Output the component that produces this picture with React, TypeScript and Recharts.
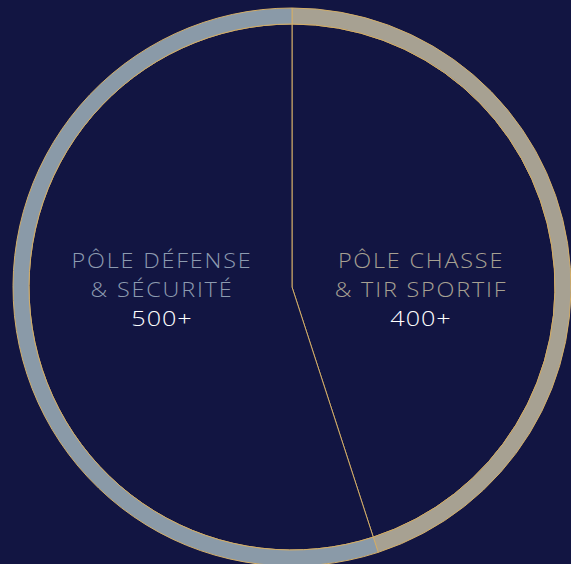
import { PieChart, Pie, Cell } from 'recharts';

const poles = ['PÔLE CHASSE\n& TIR SPORTIF', 'PÔLE DÉFENSE\n& SÉCURITÉ'];
const counts = ['400+', '500+'];
// share of the ring (split line sits ~162° clockwise from top)
const shares = [45, 55];
const ringColors = ['#a7a192', '#8a9aa8'];
const labelColors = ['#a7a192', '#8d9bb0'];
const labelCenters = [421, 162];

const BG = '#121542';
const GOLD = '#d2ad68';

const data = poles.map((name, i) => ({ name, value: shares[i] }));

export default function App() {
  return (
    <div
      style={{
        position: 'fixed',
        top: 0,
        left: 0,
        width: 571,
        height: 564,
        background: BG,
        overflow: 'hidden',
        fontFamily: '"Open Sans", sans-serif',
      }}
    >
      <PieChart width={571} height={564} margin={{ top: 0, right: 0, bottom: 0, left: 0 }}>
        <Pie
          data={data}
          dataKey="value"
          cx={292}
          cy={287}
          startAngle={90}
          endAngle={-270}
          outerRadius={263}
          stroke={GOLD}
          strokeWidth={1}
          isAnimationActive={false}
        >
          {data.map((d) => (
            <Cell key={d.name} fill={BG} />
          ))}
        </Pie>
        <Pie
          data={data}
          dataKey="value"
          cx={292}
          cy={287}
          startAngle={90}
          endAngle={-270}
          innerRadius={263}
          outerRadius={279}
          stroke={GOLD}
          strokeWidth={1}
          isAnimationActive={false}
        >
          {data.map((d, i) => (
            <Cell key={d.name} fill={ringColors[i]} />
          ))}
        </Pie>
      </PieChart>
      {poles.map((name, i) => (
        <div
          key={name}
          style={{
            position: 'absolute',
            left: labelCenters[i] - 130,
            width: 260,
            top: 246,
            textAlign: 'center',
            fontSize: 19.5,
            lineHeight: '29px',
            fontWeight: 300,
            whiteSpace: 'pre-line',
            transform: 'scaleX(1.2)',
          }}
        >
          <div style={{ color: labelColors[i], letterSpacing: 1.5 }}>{name}</div>
          <div style={{ color: '#ffffff', fontSize: 21, letterSpacing: 0.8 }}>{counts[i]}</div>
        </div>
      ))}
    </div>
  );
}
